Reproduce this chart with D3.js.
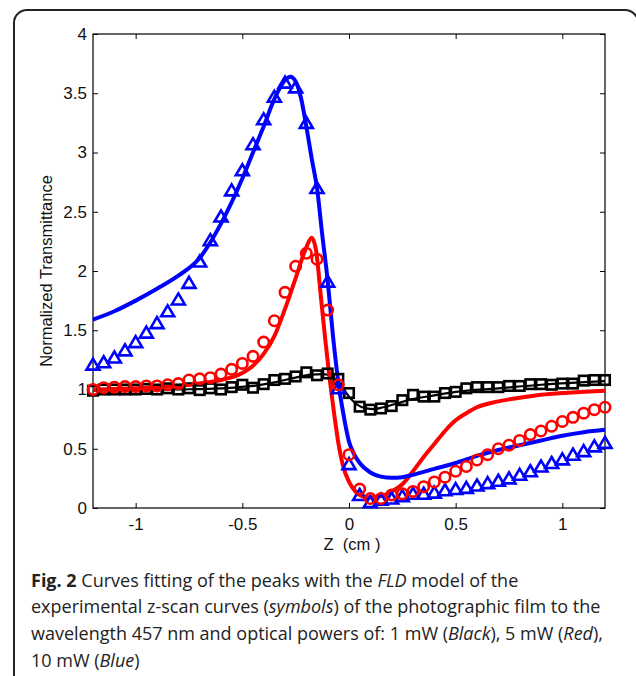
<!DOCTYPE html>
<html>
<head>
<meta charset="utf-8">
<script src="https://cdn.jsdelivr.net/npm/d3@7"></script>
<style>
  body { margin: 0; background: #fff; }
  svg { display: block; }
  .tick text { font-family: "Liberation Sans", Arial, sans-serif; }
</style>
</head>
<body>
<div id="chart"></div>
<script>
// measured z positions (cm) of the symbols
var markerZ = [-1.2,-1.15,-1.1,-1.05,-1.0,-0.95,-0.9,-0.85,-0.8,-0.75,-0.7,-0.65,-0.6,-0.55,-0.5,-0.45,-0.4,-0.35,-0.3,-0.25,-0.2,-0.15,-0.1,-0.05,
               0,0.05,0.1,0.15,0.2,0.25,0.3,0.35,0.4,0.45,0.5,0.55,0.6,0.65,0.7,0.75,0.8,0.85,0.9,0.95,1.0,1.05,1.1,1.15,1.2];

// experimental points (symbols)
var blackPts = [0.99,1.0,1.0,1.0,1.0,1.005,1.0,1.01,1.0,1.01,0.995,1.01,1.0,1.02,1.04,1.015,1.045,1.08,1.09,1.11,1.145,1.12,1.135,1.09,
                0.97,0.855,0.83,0.84,0.86,0.91,0.955,0.94,0.94,0.97,0.98,1.01,1.02,1.02,1.02,1.03,1.03,1.045,1.045,1.04,1.05,1.05,1.075,1.08,1.08];
var redPts = [1.0,1.015,1.02,1.025,1.025,1.03,1.03,1.04,1.05,1.08,1.09,1.10,1.13,1.17,1.22,1.28,1.40,1.58,1.82,2.04,2.15,2.10,1.67,1.04,
              0.45,0.16,0.08,0.08,0.11,0.12,0.14,0.18,0.22,0.26,0.31,0.35,0.405,0.45,0.50,0.53,0.57,0.62,0.65,0.69,0.73,0.765,0.80,0.83,0.85];
var bluePts = [1.21,1.23,1.27,1.33,1.40,1.48,1.56,1.66,1.76,1.90,2.08,2.26,2.46,2.68,2.85,3.07,3.28,3.47,3.59,3.55,3.25,2.70,1.91,1.01,
               0.37,0.11,0.05,0.07,0.08,0.10,0.12,0.12,0.13,0.15,0.16,0.17,0.19,0.21,0.23,0.25,0.28,0.31,0.35,0.38,0.41,0.45,0.48,0.52,0.55];

// FLD model fits (lines)
var blackFitZ = [-1.2,-0.8,-0.6,-0.45,-0.35,-0.25,-0.18,-0.12,-0.08,-0.04,0,0.04,0.08,0.12,0.16,0.22,0.3,0.4,0.5,0.7,0.9,1.2];
var blackFitT = [0.99,1.0,1.01,1.03,1.06,1.1,1.125,1.13,1.11,1.04,0.94,0.87,0.84,0.835,0.85,0.88,0.92,0.95,0.98,1.01,1.04,1.07];
var redFitZ = [-1.2,-1.0,-0.8,-0.7,-0.6,-0.5,-0.45,-0.4,-0.35,-0.3,-0.25,-0.2,-0.175,-0.155,-0.13,-0.11,-0.09,-0.07,-0.05,-0.03,
               0,0.03,0.06,0.1,0.15,0.2,0.25,0.3,0.35,0.4,0.45,0.5,0.55,0.6,0.7,0.8,0.9,1.0,1.1,1.2];
var redFitT = [1.0,1.01,1.03,1.05,1.08,1.14,1.2,1.3,1.45,1.68,1.94,2.2,2.28,2.18,1.75,1.4,1.08,0.8,0.55,0.37,
               0.22,0.14,0.1,0.09,0.1,0.14,0.2,0.31,0.43,0.54,0.65,0.74,0.8,0.85,0.9,0.93,0.955,0.97,0.98,0.99];
var blueFitZ = [-1.2,-1.1,-1.0,-0.9,-0.8,-0.7,-0.6,-0.5,-0.45,-0.4,-0.35,-0.3,-0.275,-0.25,-0.225,-0.2,-0.175,-0.15,-0.125,-0.1,
                -0.075,-0.05,-0.025,0,0.025,0.05,0.1,0.15,0.2,0.25,0.3,0.4,0.5,0.6,0.7,0.8,0.9,1.0,1.1,1.2];
var blueFitT = [1.59,1.66,1.75,1.85,1.96,2.11,2.40,2.78,3.0,3.22,3.45,3.61,3.64,3.6,3.46,3.22,2.95,2.7,2.3,1.92,
                1.45,1.06,0.78,0.56,0.45,0.38,0.3,0.265,0.255,0.26,0.28,0.33,0.38,0.44,0.49,0.53,0.57,0.61,0.64,0.66];

var xTicks = [-1, -0.5, 0, 0.5, 1];
var yTicks = [0, 0.5, 1, 1.5, 2, 2.5, 3, 3.5, 4];

var W = 636, H = 676;
var margin = {top: 34, right: 31, bottom: 168, left: 93};
var width = W - margin.left - margin.right;
var height = H - margin.top - margin.bottom;

var svg = d3.select("#chart").append("svg")
    .attr("width", W)
    .attr("height", H);

// figure frame (bottom edge falls outside the page)
svg.append("rect")
    .attr("x", 14).attr("y", 10)
    .attr("width", 624).attr("height", 700)
    .attr("rx", 13).attr("ry", 13)
    .attr("fill", "none")
    .attr("stroke", "#222")
    .attr("stroke-width", 2);

var g = svg.append("g")
    .attr("transform", "translate(" + margin.left + "," + margin.top + ")");

var x = d3.scaleLinear().domain([-1.2, 1.2]).range([0, width]);
var y = d3.scaleLinear().domain([0, 4]).range([height, 0]);

var fmt = function(d) { return String(d); };

// axes, matlab style: inward ticks on all four sides
function styleAxis(sel) {
  sel.select(".domain").remove();
  sel.selectAll(".tick line").attr("stroke", "#000").attr("stroke-width", 1);
  sel.selectAll(".tick text").attr("fill", "#111").attr("font-size", 17);
}

g.append("g")
    .attr("transform", "translate(0," + height + ")")
    .call(d3.axisBottom(x).tickValues(xTicks).tickFormat(fmt).tickSizeInner(-5).tickSizeOuter(0).tickPadding(10))
    .call(styleAxis);
g.append("g")
    .call(d3.axisTop(x).tickValues(xTicks).tickFormat("").tickSizeInner(-5).tickSizeOuter(0))
    .call(styleAxis);
g.append("g")
    .call(d3.axisLeft(y).tickValues(yTicks).tickFormat(fmt).tickSizeInner(-5).tickSizeOuter(0).tickPadding(6))
    .call(styleAxis);
g.append("g")
    .attr("transform", "translate(" + width + ",0)")
    .call(d3.axisRight(y).tickValues(yTicks).tickFormat("").tickSizeInner(-5).tickSizeOuter(0))
    .call(styleAxis);

g.append("rect")
    .attr("width", width).attr("height", height)
    .attr("fill", "none").attr("stroke", "#000").attr("stroke-width", 1.2);

// axis titles
g.append("text")
    .attr("x", x(0) + 3).attr("y", height + 42)
    .attr("text-anchor", "middle")
    .attr("font-family", "Liberation Sans, Arial, sans-serif")
    .attr("font-size", 16.5)
    .attr("fill", "#111")
    .attr("xml:space", "preserve")
    .text("Z  (cm )");

g.append("text")
    .attr("transform", "translate(-41," + (height / 2) + ") rotate(-90)")
    .attr("text-anchor", "middle")
    .attr("font-family", "Liberation Sans, Arial, sans-serif")
    .attr("font-size", 16.5)
    .attr("fill", "#111")
    .text("Normalized Transmittance");

// fit lines
var line = d3.line()
    .x(d => x(d[0]))
    .y(d => y(d[1]))
    .curve(d3.curveMonotoneX);

function fitLine(zs, ts, color, w) {
  g.append("path")
      .datum(d3.zip(zs, ts))
      .attr("d", line)
      .attr("fill", "none")
      .attr("stroke", color)
      .attr("stroke-width", w)
      .attr("stroke-linejoin", "round");
}
fitLine(blackFitZ, blackFitT, "#000", 2.2);
fitLine(redFitZ, redFitT, "#ff0000", 4);
fitLine(blueFitZ, blueFitT, "#0000ff", 4);

// symbols
var pts = function(vals) { return d3.zip(markerZ, vals); };

g.append("g").selectAll("rect")
    .data(pts(blackPts))
    .enter().append("rect")
      .attr("x", d => x(d[0]) - 4.75)
      .attr("y", d => y(d[1]) - 4.75)
      .attr("width", 9.5).attr("height", 9.5)
      .attr("fill", "none")
      .attr("stroke", "#000")
      .attr("stroke-width", 2.6);

g.append("g").selectAll("path")
    .data(pts(bluePts))
    .enter().append("path")
      .attr("d", d => {
        var cx = x(d[0]), cy = y(d[1]);
        return "M" + cx + "," + (cy - 6) + "L" + (cx + 6.5) + "," + (cy + 5) + "L" + (cx - 6.5) + "," + (cy + 5) + "Z";
      })
      .attr("fill", "none")
      .attr("stroke", "#0000ff")
      .attr("stroke-width", 2.6)
      .attr("stroke-linejoin", "miter");

g.append("g").selectAll("circle")
    .data(pts(redPts))
    .enter().append("circle")
      .attr("cx", d => x(d[0]))
      .attr("cy", d => y(d[1]))
      .attr("r", 5.2)
      .attr("fill", "none")
      .attr("stroke", "#ff0000")
      .attr("stroke-width", 2.6);

// caption
var cap = svg.append("text")
    .attr("font-family", "Open Sans, sans-serif")
    .attr("font-size", 18)
    .attr("fill", "#222");

var capLines = [
  [["Fig. 2", "bold"], [" Curves fitting of the peaks with the ", ""], ["FLD", "italic"], [" model of the", ""]],
  [["experimental z-scan curves (", ""], ["symbols", "italic"], [") of the photographic film to the", ""]],
  [["wavelength 457 nm and optical powers of: 1 mW (", ""], ["Black", "italic"], ["), 5 mW (", ""], ["Red", "italic"], ["),", ""]],
  [["10 mW (", ""], ["Blue", "italic"], [")", ""]]
];
var capY = [587, 613, 640, 667];

capLines.forEach((parts, i) => {
  parts.forEach((p, j) => {
    var t = cap.append("tspan").attr("xml:space", "preserve").text(p[0]);
    if (j === 0) t.attr("x", 31).attr("y", capY[i]);
    if (p[1] === "bold") t.attr("font-weight", "bold");
    if (p[1] === "italic") t.attr("font-style", "italic");
  });
});
</script>
</body>
</html>
